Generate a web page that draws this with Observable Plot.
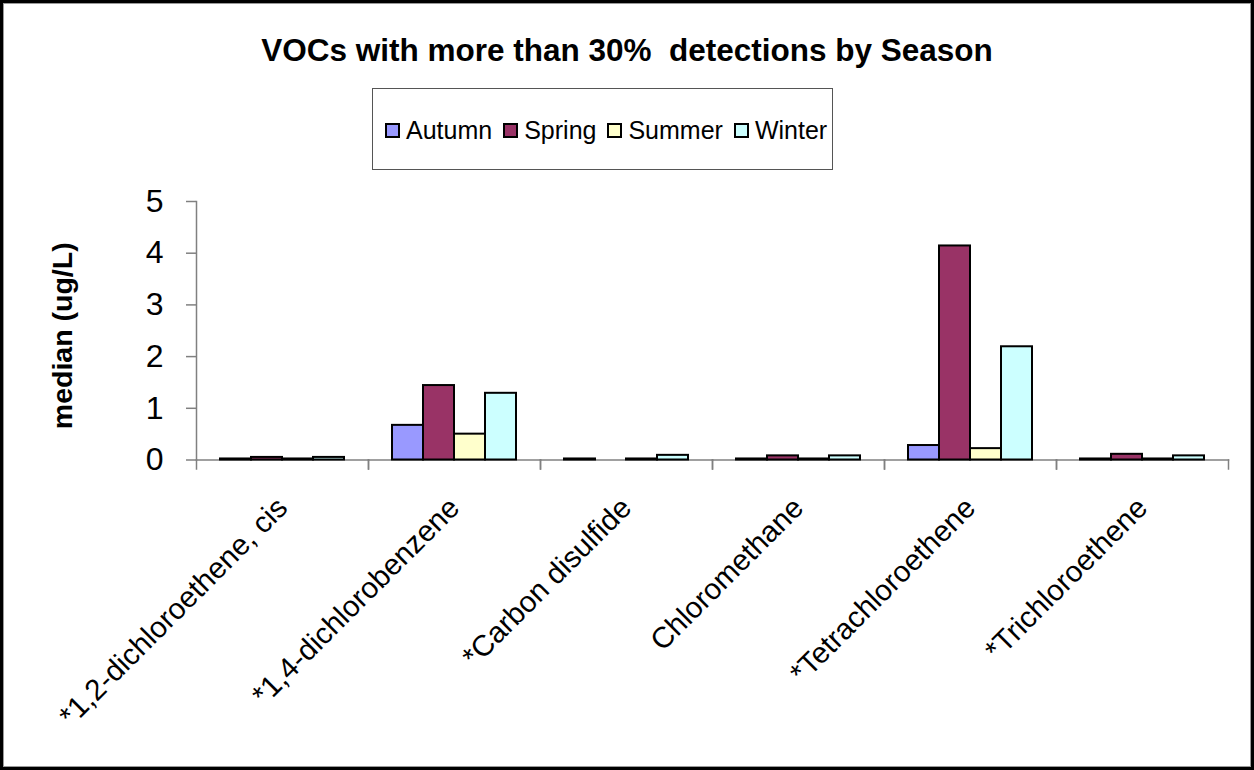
<!DOCTYPE html>
<html>
<head>
<meta charset="utf-8">
<script src="https://cdn.jsdelivr.net/npm/d3@7"></script>
<script src="https://cdn.jsdelivr.net/npm/@observablehq/plot@0.6"></script>
<style>
  body { margin: 0; background: #fff; }
  #chart {
    position: relative; width: 1254px; height: 770px; overflow: hidden;
    font-family: "Liberation Sans", Arial, sans-serif; color: #000; background: #fff;
    box-shadow: inset 0 0 0 3px #000, inset 0 0 0 4px #9a9a9a;
  }
  #chart svg { position: absolute; left: 0; top: 0; }
  #title {
    position: absolute; left: 3px; top: 35px; width: 1248px; text-align: center;
    font-weight: bold; font-size: 31.5px; line-height: 31px; white-space: pre;
  }
  #legend {
    position: absolute; left: 372px; top: 88px; width: 461px; height: 82px; box-sizing: border-box;
    border: 1.5px solid #555; display: flex; align-items: center; padding-left: 12px; padding-top: 2px;
  }
  .item { display: flex; align-items: center; margin-right: 11px; font-size: 25px; }
  .swatch { width: 15px; height: 15px; box-sizing: border-box; border: 2px solid #000; margin-right: 6px; }
</style>
</head>
<body>
<div id="chart">
  <div id="title"></div>
  <div id="legend"></div>
</div>
<script>
// Compounds (x categories) and seasons (series)
const categories = [
  "*1,2-dichloroethene, cis",
  "*1,4-dichlorobenzene",
  "*Carbon disulfide",
  "Chloromethane",
  "*Tetrachloroethene",
  "*Trichloroethene"
];
const seasons = ["Autumn", "Spring", "Summer", "Winter"];

// Median concentrations (ug/L), one value per compound
const autumn = [0.02, 0.67, 0.02, 0.02, 0.28, 0.02];
const spring = [0.05, 1.44, null, 0.08, 4.14, 0.11];
const summer = [0.02, 0.50, 0.02, 0.02, 0.22, 0.02];
const winter = [0.05, 1.29, 0.09, 0.08, 2.19, 0.08];

const colors = ["#9999FF", "#993366", "#FFFFCC", "#CCFFFF"];
const yTicks = [0, 1, 2, 3, 4, 5];
const titleText = "VOCs with more than 30%  detections by Season";
const yLabel = "median (ug/L)";

const seriesValues = [autumn, spring, summer, winter];
const rows = categories.flatMap((compound, i) =>
  seasons.map((season, j) => ({compound, season, value: seriesValues[j][i]}))
);

document.getElementById("title").textContent = titleText;

// Legend
const legend = document.getElementById("legend");
seasons.forEach((s, i) => {
  const item = document.createElement("div");
  item.className = "item";
  const sw = document.createElement("div");
  sw.className = "swatch";
  sw.style.background = colors[i];
  const label = document.createElement("span");
  label.textContent = s;
  item.append(sw, label);
  legend.append(item);
});

const innerHeight = 770 - 201 - 310.5;
const axisGray = "#808080";

const plot = Plot.plot({
  width: 1254,
  height: 770,
  marginTop: 201,
  marginBottom: 310.5,
  marginLeft: 194,
  marginRight: 25,
  style: {fontFamily: "'Liberation Sans', Arial, sans-serif", background: "transparent", color: "#000"},
  fx: {domain: categories, padding: 0},
  x: {domain: seasons, paddingInner: 0, paddingOuter: 0.75, axis: null},
  y: {domain: [0, 5], axis: null},
  color: {domain: seasons, range: colors},
  marks: [
    // category axis line and boundary ticks
    Plot.frame({anchor: "bottom", stroke: axisGray, strokeWidth: 1.5}),
    Plot.frame({anchor: "left", stroke: axisGray, strokeWidth: 1.5, insetTop: innerHeight, insetBottom: -9}),
    Plot.frame({anchor: "right", stroke: axisGray, strokeWidth: 1.5, insetTop: innerHeight, insetBottom: -9}),
    // value axis line
    Plot.frame({anchor: "left", stroke: axisGray, strokeWidth: 1.5, facetAnchor: "left"}),
    Plot.axisY({
      ticks: yTicks, tickFormat: d3.format("d"), tickSize: 10, tickPadding: 23, fontSize: 32,
      stroke: axisGray, strokeWidth: 1.5, fill: "#000", label: null
    }),
    Plot.text([yLabel], {
      text: d => d, frameAnchor: "left", facetAnchor: "left", textAnchor: "middle", rotate: -90,
      dx: -134, dy: 5, fontSize: 28.5, fontWeight: "bold", fill: "#000"
    }),
    Plot.axisFx({
      anchor: "bottom", tickRotate: -45, tickSize: 0, tickPadding: 43,
      fontSize: 29.5, fill: "#000", label: null
    }),
    Plot.barY(rows, {
      fx: "compound", x: "season", y: "value",
      fill: "season", stroke: "#000", strokeWidth: 2
    })
  ]
});

document.getElementById("chart").append(plot);
</script>
</body>
</html>
